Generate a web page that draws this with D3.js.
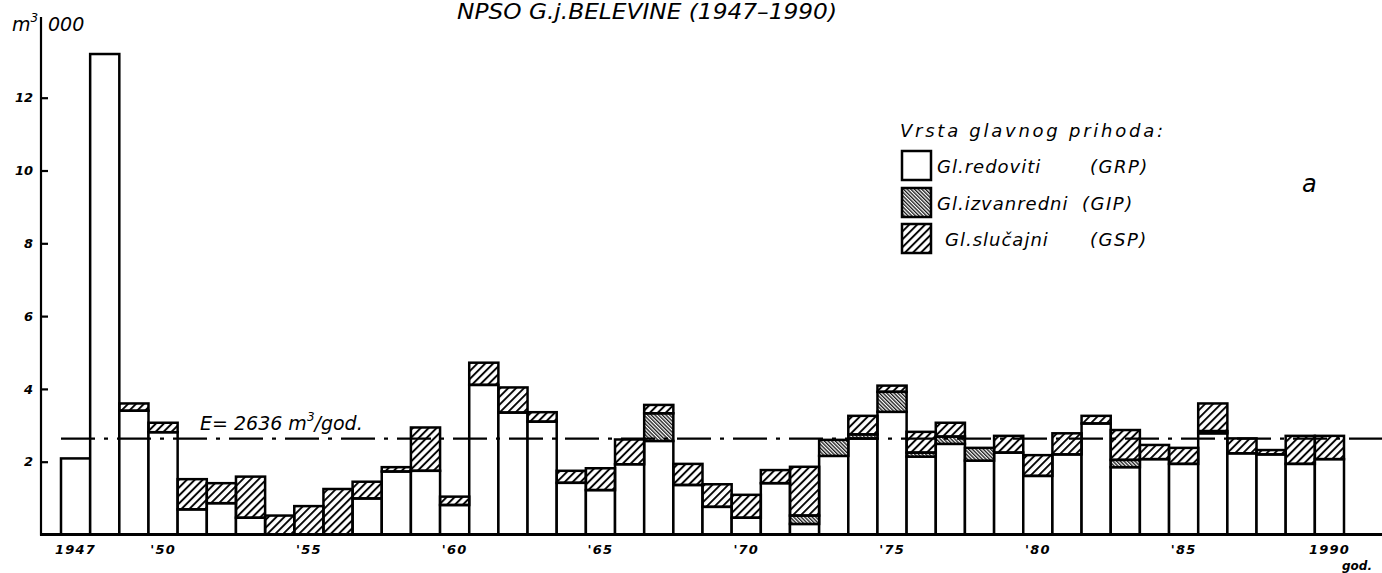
<!DOCTYPE html>
<html>
<head>
<meta charset="utf-8">
<script src="https://cdn.jsdelivr.net/npm/d3@7/dist/d3.min.js"></script>
<style>
  html, body { margin: 0; padding: 0; background: #fff; }
  svg { display: block; }
  text { font-family: "DejaVu Sans", "Liberation Sans", sans-serif; font-style: italic; fill: #000; }
</style>
</head>
<body>
<svg id="chart" width="1382" height="573"></svg>
<script>
// Annual main cut by type, thousands of m3, 1947-1990
const years = d3.range(1947, 1991);
// GRP – regular main yield
const grp = [2.09, 13.2, 3.40, 2.81, 0.69, 0.86, 0.46, 0, 0, 0,
             0.99, 1.73, 1.75, 0.81, 4.11, 3.35, 3.10, 1.42, 1.22, 1.93,
             2.57, 1.36, 0.76, 0.46, 1.41, 0.29, 2.16, 2.64, 3.37, 2.14,
             2.49, 2.03, 2.25, 1.61, 2.20, 3.05, 1.85, 2.07, 1.94, 2.78,
             2.23, 2.20, 1.94, 2.07];
// GIP – extraordinary main yield
const gip = [0, 0, 0, 0, 0, 0, 0, 0, 0, 0,
             0, 0, 0, 0, 0, 0, 0, 0, 0, 0,
             0.76, 0, 0, 0, 0, 0.23, 0.44, 0.11, 0.55, 0.11,
             0.20, 0.35, 0, 0, 0, 0, 0.20, 0, 0, 0.06,
             0, 0, 0, 0];
// GSP – incidental main yield
const gsp = [0, 0, 0.20, 0.26, 0.83, 0.55, 1.13, 0.52, 0.78, 1.25,
             0.46, 0.12, 1.19, 0.23, 0.61, 0.69, 0.26, 0.33, 0.60, 0.68,
             0.23, 0.58, 0.62, 0.63, 0.36, 1.34, 0, 0.51, 0.17, 0.57,
             0.38, 0, 0.46, 0.57, 0.58, 0.21, 0.82, 0.39, 0.44, 0.76,
             0.41, 0.12, 0.77, 0.64];
const meanCut = 2.636;
const yTicks = [2, 4, 6, 8, 10, 12];
const xTickYears = [1947, 1950, 1955, 1960, 1965, 1970, 1975, 1980, 1985, 1990];
const xTickLabels = ["1947", "'50", "'55", "'60", "'65", "'70", "'75", "'80", "'85", "1990"];
const seriesKeys = ["grp", "gip", "gsp"];
const seriesNames = ["Gl.redoviti", "Gl.izvanredni", "Gl.slučajni"];
const seriesCodes = ["(GRP)", "(GIP)", "(GSP)"];

const rows = years.map((yr, i) => ({ year: yr, grp: grp[i], gip: gip[i], gsp: gsp[i] }));
const stacked = d3.stack().keys(seriesKeys)(rows);

const svg = d3.select("#chart");
const x = d3.scaleBand().domain(years).range([61, 1344]).padding(0);
const y = d3.scaleLinear().domain([0, 13]).range([534.5, 534.5 - 13 * 36.4]);

// hatch fills
const defs = svg.append("defs");
defs.append("pattern")
  .attr("id", "hatch-gsp").attr("patternUnits", "userSpaceOnUse")
  .attr("width", 5.6).attr("height", 10).attr("patternTransform", "rotate(45)")
  .append("line").attr("x1", 1).attr("x2", 1).attr("y1", 0).attr("y2", 10)
  .attr("stroke", "#000").attr("stroke-width", 1.9);
const gipPat = defs.append("pattern")
  .attr("id", "hatch-gip").attr("patternUnits", "userSpaceOnUse")
  .attr("width", 2.6).attr("height", 10).attr("patternTransform", "rotate(-45)");
gipPat.append("rect").attr("width", 2.6).attr("height", 10).attr("fill", "#fff");
gipPat.append("line").attr("x1", 0.7).attr("x2", 0.7).attr("y1", 0).attr("y2", 10)
  .attr("stroke", "#000").attr("stroke-width", 1.2);
const fills = { grp: "#fff", gip: "url(#hatch-gip)", gsp: "url(#hatch-gsp)" };

// stacked bars
const layer = svg.append("g").selectAll("g").data(stacked).join("g")
  .attr("fill", d => fills[d.key]);
layer.selectAll("rect")
  .data(d => d.filter(s => s[1] - s[0] > 0))
  .join("rect")
  .attr("x", s => x(s.data.year))
  .attr("width", x.bandwidth())
  .attr("y", s => y(s[1]))
  .attr("height", s => y(s[0]) - y(s[1]))
  .attr("stroke", "#000").attr("stroke-width", 2.5);

// mean line
svg.append("line")
  .attr("x1", 61).attr("x2", 1382)
  .attr("y1", y(meanCut)).attr("y2", y(meanCut))
  .attr("stroke", "#000").attr("stroke-width", 2.2)
  .attr("stroke-dasharray", "34,9,4,9");
const eText = svg.append("text").attr("x", 200).attr("y", 430).attr("font-size", 19);
eText.append("tspan").text("E= 2636 m");
eText.append("tspan").attr("font-size", 12).attr("dy", -9).text("3");
eText.append("tspan").attr("dy", 9).text("/god.");

// axes
svg.append("line").attr("x1", 41).attr("x2", 41).attr("y1", 17).attr("y2", 535.5)
  .attr("stroke", "#000").attr("stroke-width", 2.2);
svg.append("line").attr("x1", 40).attr("x2", 1382).attr("y1", y(0)).attr("y2", y(0))
  .attr("stroke", "#000").attr("stroke-width", 2.8);

const yAxis = svg.append("g").attr("transform", "translate(41,0)")
  .call(d3.axisLeft(y).tickValues(yTicks).tickSize(-7).tickPadding(8).tickFormat(d3.format("d")));
yAxis.select(".domain").remove();
yAxis.selectAll(".tick line").attr("stroke", "#000").attr("stroke-width", 2.2);
yAxis.selectAll(".tick text").attr("font-size", 13).attr("font-weight", "bold")
  .attr("font-family", "DejaVu Sans, sans-serif").attr("font-style", "italic");

const xAxis = svg.append("g").attr("transform", `translate(0,${y(0)})`)
  .call(d3.axisBottom(x).tickValues(xTickYears).tickSize(0).tickPadding(10)
    .tickFormat(d => xTickLabels[xTickYears.indexOf(d)]));
xAxis.select(".domain").remove();
xAxis.selectAll(".tick text").attr("font-size", 13).attr("font-weight", "bold")
  .attr("font-family", "DejaVu Sans, sans-serif").attr("font-style", "italic")
  .attr("letter-spacing", 1.2);
svg.append("text").attr("x", 1342).attr("y", 570).attr("font-size", 12)
  .attr("font-weight", "bold").text("god.");

// unit label
const unit = svg.append("text").attr("x", 12).attr("y", 31).attr("font-size", 19);
unit.append("tspan").text("m");
unit.append("tspan").attr("font-size", 12).attr("dy", -9).text("3");
svg.append("text").attr("x", 48).attr("y", 31).attr("font-size", 19).text("000");

// title
svg.append("text").attr("x", 457).attr("y", 19).attr("font-size", 21)
  .attr("textLength", 380).attr("lengthAdjust", "spacingAndGlyphs")
  .text("NPSO  G.j.BELEVINE (1947–1990)");

// legend
svg.append("text").attr("x", 900).attr("y", 137).attr("font-size", 18)
  .attr("textLength", 263).attr("lengthAdjust", "spacing")
  .text("Vrsta glavnog prihoda:");
const legendTop = [151, 188, 224];
seriesKeys.forEach((k, i) => {
  svg.append("rect").attr("x", 902).attr("y", legendTop[i]).attr("width", 29).attr("height", 29)
    .attr("fill", fills[k]).attr("stroke", "#000").attr("stroke-width", 2.5);
  svg.append("text").attr("x", i === 2 ? 945 : 937).attr("y", legendTop[i] + 22).attr("font-size", 18)
    .attr("letter-spacing", 1).text(seriesNames[i]);
  svg.append("text").attr("x", i === 1 ? 1082 : 1090).attr("y", legendTop[i] + 22).attr("font-size", 18)
    .attr("letter-spacing", 1.5).text(seriesCodes[i]);
});
svg.append("text").attr("x", 1302).attr("y", 192).attr("font-size", 24).text("a");
</script>
</body>
</html>
